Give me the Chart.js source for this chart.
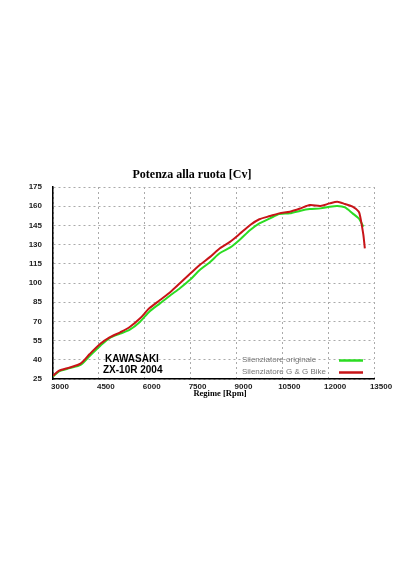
<!DOCTYPE html>
<html lang="it">
<head>
<meta charset="utf-8">
<title>Potenza alla ruota [Cv]</title>
<script src="https://cdn.jsdelivr.net/npm/chart.js@4.4.1/dist/chart.umd.min.js"></script>
<style>
  html, body { margin: 0; padding: 0; background: #fff; }
  canvas { display: block; }
</style>
</head>
<body>
<canvas id="chart" width="416" height="570"></canvas>
<script>
// --- Dati ---
const rpm = [3000, 3200, 3550, 3900, 4200, 4550, 4850, 5200, 5500, 5850, 6150, 6500,
  6850, 7150, 7500, 7800, 8150, 8450, 8800, 9100, 9450, 9750, 10100, 10400, 10750,
  11100, 11400, 11750, 12050, 12300, 12550, 12800, 13000, 13050, 13150, 13200];
const originale = [27, 31, 33.5, 36, 43, 51, 57, 60.5, 63.3, 69.8, 77.6, 84.1,
  90.6, 95.9, 102.9, 110.2, 116.6, 123.2, 127.8, 133.6, 141.4, 146.6, 150.5, 153.9, 154.4,
  156.5, 157.8, 158.3, 159.6, 160.2, 159.1, 154.4, 150.5, 148.7, 144, null];
const ggBike = [27.5, 31.5, 34, 37, 44.5, 52.5, 57.5, 61.5, 65.4, 72.4, 80.2, 86.7,
  93.2, 99.8, 107.6, 114.1, 120.6, 127, 132.3, 138.2, 145.3, 149.8, 152.3, 154.4, 155.7,
  158.3, 160.9, 160.2, 162.2, 163.5, 161.7, 159.6, 155.7, 151.8, 138, 127];
const xTicks = [3000, 4500, 6000, 7500, 9000, 10500, 12000, 13500];
const yTicks = [25, 40, 55, 70, 85, 100, 115, 130, 145, 160, 175];

const titolo = 'Potenza alla ruota [Cv]';
const titoloX = 'Regime [Rpm]';
const modello = ['KAWASAKI', 'ZX-10R 2004'];
const serie = [
  { label: 'Silenziatore originale', color: '#2bdc22' },
  { label: 'Silenziatore G & G Bike', color: '#c81418' }
];

// --- Testi e legenda ---
const testi = {
  id: 'testi',
  afterDraw(chart) {
    const { ctx } = chart;
    ctx.save();
    ctx.fillStyle = '#000';
    ctx.textBaseline = 'middle';

    ctx.textAlign = 'center';
    ctx.font = 'bold 12px "Liberation Serif"';
    ctx.fillText(titolo, 192, 175);
    ctx.font = 'bold 8.5px "Liberation Serif"';
    ctx.fillText(titoloX, 220, 394);

    ctx.textAlign = 'left';
    ctx.font = 'bold 10px "Liberation Sans"';
    ctx.fillText(modello[0], 105, 359.5);
    ctx.fillText(modello[1], 103, 370.5);

    ctx.font = '8px "Liberation Sans"';
    serie.forEach((s, i) => {
      const y = 360 + i * 12;
      ctx.fillStyle = '#777';
      ctx.fillText(s.label, 242, y);
      ctx.strokeStyle = s.color;
      ctx.lineWidth = 2.5;
      ctx.beginPath();
      ctx.moveTo(339, y + 0.5);
      ctx.lineTo(363, y + 0.5);
      ctx.stroke();
    });
    ctx.restore();
  }
};

const tickFont = { family: 'Liberation Sans', size: 8, weight: 'bold' };

new Chart(document.getElementById('chart'), {
  type: 'line',
  data: {
    labels: rpm,
    datasets: [
      { label: serie[1].label, data: ggBike, borderColor: serie[1].color, borderWidth: 2 },
      { label: serie[0].label, data: originale, borderColor: serie[0].color, borderWidth: 2 }
    ]
  },
  options: {
    responsive: false,
    animation: false,
    events: [],
    layout: { padding: { top: 187, right: 42, bottom: 171, left: 0 } },
    elements: { point: { radius: 0 }, line: { tension: 0.25 } },
    plugins: { legend: { display: false }, tooltip: { enabled: false } },
    scales: {
      x: {
        type: 'linear',
        min: xTicks[0],
        max: xTicks[xTicks.length - 1],
        afterBuildTicks: s => { s.ticks = xTicks.map(v => ({ value: v })); },
        afterFit: s => { s.height = 20; },
        ticks: { font: tickFont, color: '#222', padding: 3, labelOffset: 7, maxRotation: 0, callback: v => String(v) },
        grid: { color: '#aaa', drawTicks: false },
        border: { color: '#000', width: 1.5, dash: [2, 3] }
      },
      y: {
        min: yTicks[0],
        max: yTicks[yTicks.length - 1],
        afterBuildTicks: s => { s.ticks = yTicks.map(v => ({ value: v })); },
        afterFit: s => { s.width = 53; },
        ticks: { font: tickFont, color: '#222', padding: 11, callback: v => String(v) },
        grid: { color: '#aaa', drawTicks: false },
        border: { color: '#000', width: 1.5, dash: [2, 3] }
      }
    }
  },
  plugins: [testi]
});
</script>
</body>
</html>
